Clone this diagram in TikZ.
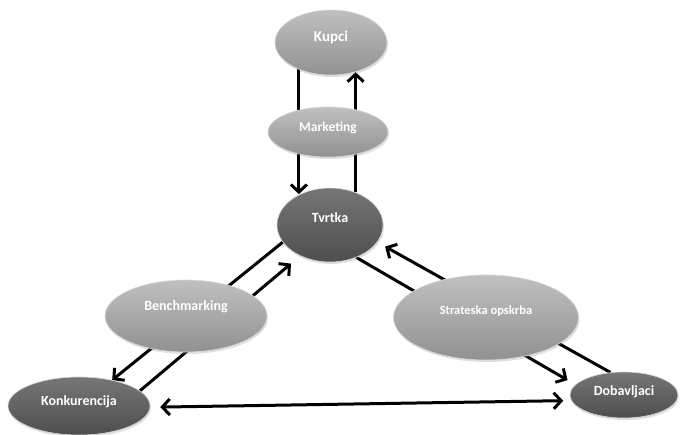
\documentclass[tikz,border=0pt]{standalone}
\usepackage{fontspec}
\setmainfont{Carlito}
\usetikzlibrary{shapes.geometric,arrows.meta,shadows,backgrounds}
\definecolor{lightA}{RGB}{192,192,192}
\definecolor{lightB}{RGB}{145,145,145}
\definecolor{darkA}{RGB}{118,118,118}
\definecolor{darkB}{RGB}{78,78,78}
\definecolor{rimc}{RGB}{215,215,215}
\tikzset{
  oval/.style={ellipse, inner sep=0pt, draw=rimc, line width=0.6pt,
    drop shadow={opacity=0.25,shadow xshift=1pt,shadow yshift=-2pt}},
  lightoval/.style={oval, top color=lightA, bottom color=lightB},
  darkoval/.style={oval, top color=darkA, bottom color=darkB},
  lbl/.style={text=white, anchor=base, inner sep=0pt},
  conn/.style={line width=3pt, -{Straight Barb[length=7.5pt,width=16pt]}},
  biconn/.style={line width=3pt, {Straight Barb[length=7.5pt,width=16pt]}-{Straight Barb[length=7.5pt,width=16pt]}},
}
\newcommand{\lf}[1]{\bfseries\fontsize{#1}{#1}\selectfont}
\begin{document}
\begin{tikzpicture}[x=1pt,y=-1pt]
\useasboundingbox (0,0) rectangle (681,435);
% ovals
\node[lightoval, minimum width=112pt, minimum height=65pt] (kupci) at (331,42.5) {};
\node[darkoval, minimum width=106pt, minimum height=74pt] (tvrtka) at (330,225) {};
\node[lightoval, minimum width=120pt, minimum height=50pt] (marketing) at (328,132) {};
\node[lightoval, minimum width=162pt, minimum height=72pt] (bench) at (186,316) {};
\node[lightoval, minimum width=185pt, minimum height=85pt] (strat) at (486,317.5) {};
\node[darkoval, minimum width=142pt, minimum height=58pt] (konk) at (79,406) {};
\node[darkoval, minimum width=108pt, minimum height=46pt] (dob) at (624,395) {};
% labels
\node[lbl, font=\lf{15}] (kupciT) at (331,42) {Kupci};
\node[lbl, font=\lf{13.5}] (marketingT) at (328,132) {Marketing};
\node[lbl, font=\lf{14}] (tvrtkaT) at (330,223) {Tvrtka};
\node[lbl, font=\lf{14}] (benchT) at (186,311) {Benchmarking};
\node[lbl, font=\lf{12.5}] (stratT) at (486,315) {Strateska opskrba};
\node[lbl, font=\lf{14}] (konkT) at (79,406) {Konkurencija};
\node[lbl, font=\lf{14}] (dobT) at (624,396) {Dobavljaci};
% connectors
\begin{scope}[on background layer]
\draw[conn] (kupci.220.7) -- (kupci.220.7 |- tvrtka.134.5);
\draw[conn] (tvrtka.52.5) -- (tvrtka.52.5 |- kupci.309.7);
\draw[conn] (tvrtka.200) -- (konk.38);
\draw[conn, shorten >=12pt] (konk.14.7) -- (tvrtka.226.5);
\draw[conn, shorten >=9pt] (tvrtka.309.3) -- (dob.168);
\draw[conn, shorten >=9pt] (dob.121) -- (tvrtka.340);
\draw[biconn, shorten <=10pt, shorten >=8pt] (konk.359) -- (dob.186);
\end{scope}
\end{tikzpicture}
\end{document}
